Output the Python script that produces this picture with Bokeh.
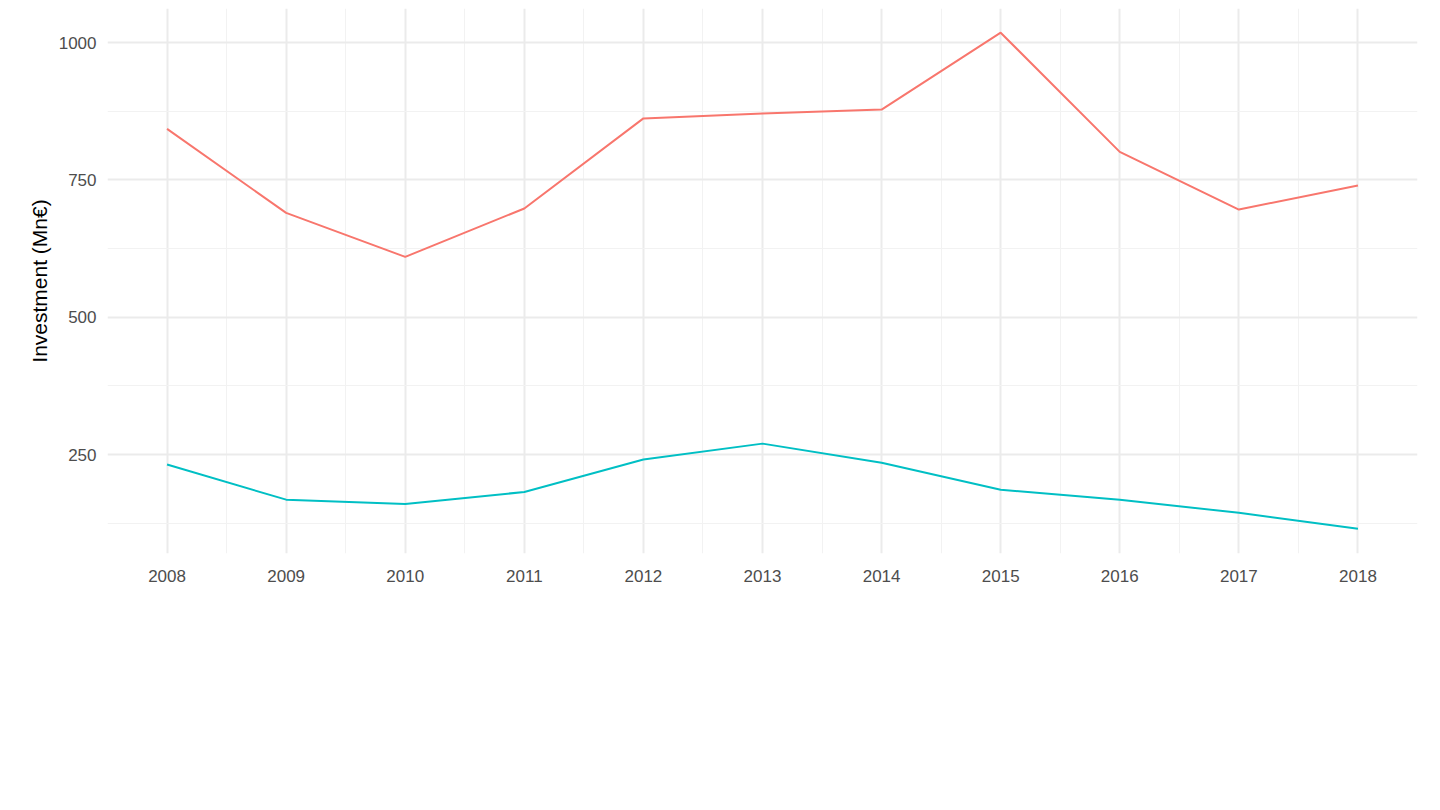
from bokeh.plotting import figure
from bokeh.models import Legend, LegendItem, FixedTicker, Range1d
from bokeh.embed import file_html
from bokeh.resources import INLINE

years = list(range(2008, 2019))
pollution = [843, 690, 610, 698, 862, 871, 878, 1018, 801, 696, 740]
cleaner = [232, 168, 160, 182, 241, 270, 235, 186, 168, 144, 115]
labels = ["Investment in equipment and plant for pollution control - million euro",
          "Investment in equipment and plant linked to cleaner technology ('integrated technology') - million euro"]

p = figure(width=1424, height=794, output_backend="svg", toolbar_location=None,
           min_border_left=107, min_border_top=8, min_border_right=7, min_border_bottom=241,
           x_range=Range1d(2007.5, 2018.5), y_range=Range1d(70, 1062))
p.outline_line_color = None
r1 = p.line(years, pollution, line_color="#F8766D", line_width=2)
r2 = p.line(years, cleaner, line_color="#00BFC4", line_width=2)

p.xaxis.ticker = FixedTicker(ticks=years, minor_ticks=[y + 0.5 for y in range(2007, 2019)])
p.yaxis.ticker = FixedTicker(ticks=[250, 500, 750, 1000], minor_ticks=[125, 375, 625, 875])
for ax in (p.xaxis, p.yaxis):
    ax.axis_line_color = None
    ax.major_tick_line_color = None
    ax.minor_tick_line_color = None
    ax.major_label_text_font = "Liberation Sans"
    ax.major_label_text_font_size = "17px"
    ax.major_label_text_color = "#4d4d4d"
p.xaxis.major_label_standoff = 10
p.yaxis.axis_label = "Investment (Mn€)"
p.yaxis.axis_label_text_font = "Liberation Sans"
p.yaxis.axis_label_text_font_style = "normal"
p.yaxis.axis_label_text_font_size = "21px"
p.yaxis.axis_label_text_color = "#000000"
p.xgrid.grid_line_color = "#ebebeb"
p.ygrid.grid_line_color = "#ebebeb"
p.xgrid.grid_line_width = 2
p.ygrid.grid_line_width = 2
p.xgrid.minor_grid_line_color = "#f2f2f2"
p.ygrid.minor_grid_line_color = "#f2f2f2"

legend = Legend(items=[LegendItem(label=labels[0], renderers=[r1]),
                       LegendItem(label=labels[1], renderers=[r2])],
                orientation="vertical", location=(88, -222),
                border_line_color=None, background_fill_alpha=0,
                label_text_font="Liberation Sans", label_text_font_size="17px",
                glyph_width=36, glyph_height=40, spacing=21, label_standoff=20,
                margin=0, padding=0)
p.add_layout(legend, "center")

open("out.html", "w").write(file_html(p, INLINE))
